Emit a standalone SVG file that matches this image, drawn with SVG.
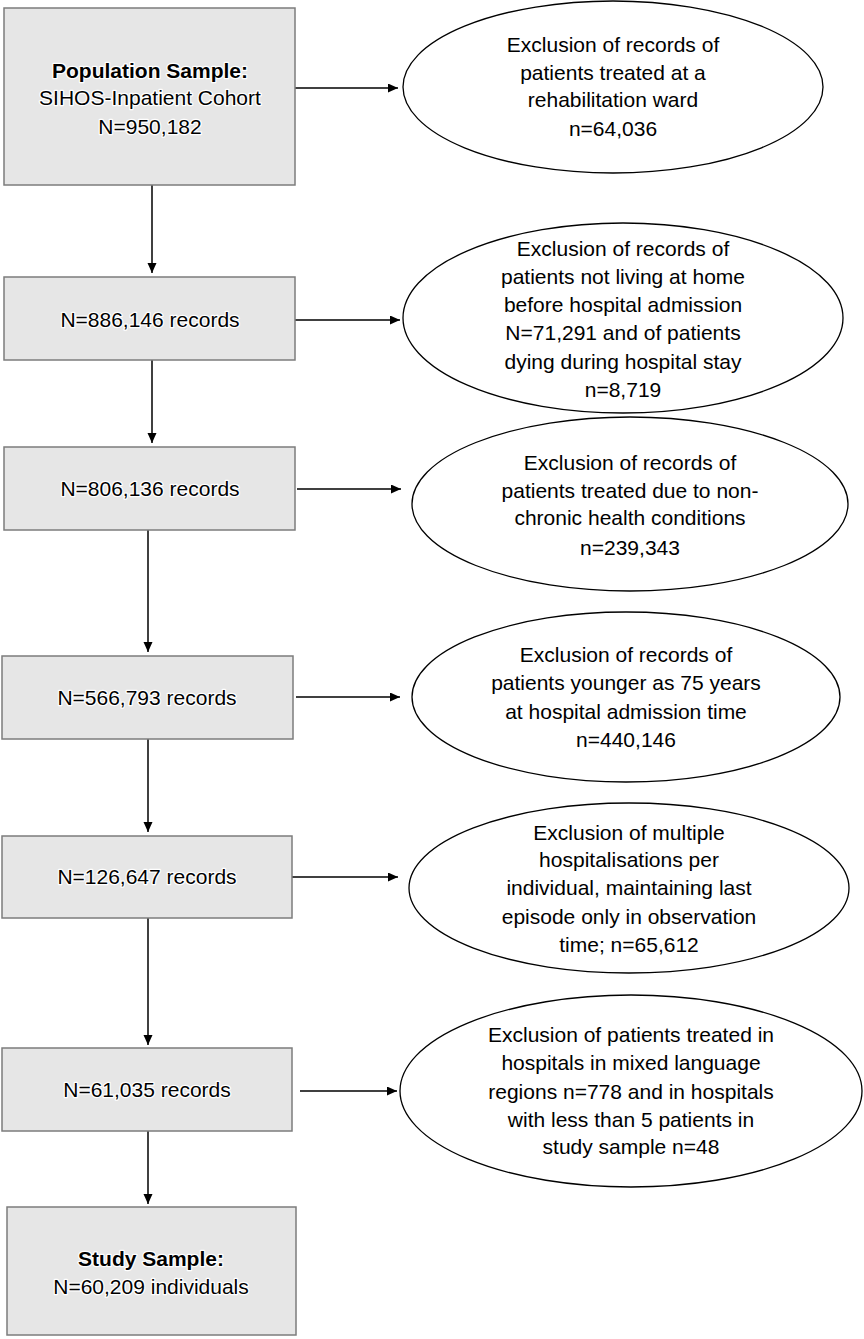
<svg xmlns="http://www.w3.org/2000/svg" width="864" height="1339" viewBox="0 0 864 1339">
<defs>
<style>
.box{fill:#e6e6e6;stroke:#7c7c7c;stroke-width:1.5}
.ell{fill:#fff;stroke:#000;stroke-width:1.3}
.bt{font-family:"Liberation Sans",Arial,sans-serif;font-size:21px;fill:#000;text-anchor:middle;stroke:#fff;stroke-width:2.5;paint-order:stroke;stroke-linejoin:round}
.et{font-family:"Liberation Sans",Arial,sans-serif;font-size:21px;fill:#000;text-anchor:middle}
.b{font-weight:bold}
.con{stroke:#000;stroke-width:1.5;fill:none;marker-end:url(#ah)}
</style>
<marker id="ah" markerUnits="userSpaceOnUse" markerWidth="11" markerHeight="10" refX="10" refY="4.5" orient="auto">
<path d="M0,0 L10,4.5 L0,9 z" fill="#000"/>
</marker>
</defs>
<rect width="864" height="1339" fill="#fff"/>
<g id="connectors">
<line class="con" x1="295" y1="88" x2="398" y2="88"/>
<line class="con" x1="295" y1="320" x2="400" y2="320"/>
<line class="con" x1="297" y1="489" x2="401" y2="489"/>
<line class="con" x1="296" y1="697" x2="400" y2="697"/>
<line class="con" x1="292" y1="877" x2="398" y2="877"/>
<line class="con" x1="300" y1="1091" x2="397" y2="1091"/>
<line class="con" x1="152" y1="185" x2="152" y2="273"/>
<line class="con" x1="152" y1="360" x2="152" y2="443"/>
<line class="con" x1="148" y1="530" x2="148" y2="652"/>
<line class="con" x1="148" y1="739" x2="148" y2="832"/>
<line class="con" x1="148" y1="918" x2="148" y2="1045"/>
<line class="con" x1="148" y1="1131" x2="148" y2="1204"/>
</g>
<g id="box1">
<rect class="box" x="4" y="8" width="291" height="177"/>
<text class="bt b" x="150" y="78">Population Sample:</text>
<text class="bt" x="150" y="105">SIHOS-Inpatient Cohort</text>
<text class="bt" x="150" y="134">N=950,182</text>
</g>
<g id="box2">
<rect class="box" x="4" y="277" width="291" height="83"/>
<text class="bt" x="150" y="327">N=886,146 records</text>
</g>
<g id="box3">
<rect class="box" x="4" y="447" width="291" height="83"/>
<text class="bt" x="150" y="496">N=806,136 records</text>
</g>
<g id="box4">
<rect class="box" x="2" y="656" width="291" height="83"/>
<text class="bt" x="147" y="705">N=566,793 records</text>
</g>
<g id="box5">
<rect class="box" x="2" y="836" width="290" height="82"/>
<text class="bt" x="147" y="884">N=126,647 records</text>
</g>
<g id="box6">
<rect class="box" x="2" y="1048" width="290" height="83"/>
<text class="bt" x="147" y="1097">N=61,035 records</text>
</g>
<g id="box7">
<rect class="box" x="7" y="1207" width="289" height="128"/>
<text class="bt b" x="151" y="1266">Study Sample:</text>
<text class="bt" x="151" y="1294">N=60,209 individuals</text>
</g>
<g id="ellipse1">
<ellipse class="ell" cx="613" cy="87" rx="210" ry="86"/>
<text class="et" x="613" y="52">Exclusion of records of</text>
<text class="et" x="613" y="80">patients treated at a</text>
<text class="et" x="613" y="107">rehabilitation ward</text>
<text class="et" x="613" y="136">n=64,036</text>
</g>
<g id="ellipse2">
<ellipse class="ell" cx="623" cy="318" rx="220" ry="95"/>
<text class="et" x="623" y="256">Exclusion of records of</text>
<text class="et" x="623" y="284">patients not living at home</text>
<text class="et" x="623" y="312">before hospital admission</text>
<text class="et" x="623" y="340">N=71,291 and of patients</text>
<text class="et" x="623" y="369">dying during hospital stay</text>
<text class="et" x="623" y="397">n=8,719</text>
</g>
<g id="ellipse3">
<ellipse class="ell" cx="630" cy="504" rx="218" ry="87"/>
<text class="et" x="630" y="470">Exclusion of records of</text>
<text class="et" x="630" y="498">patients treated due to non-</text>
<text class="et" x="630" y="525">chronic health conditions</text>
<text class="et" x="630" y="555">n=239,343</text>
</g>
<g id="ellipse4">
<ellipse class="ell" cx="626" cy="697" rx="214" ry="85"/>
<text class="et" x="626" y="662">Exclusion of records of</text>
<text class="et" x="626" y="690">patients younger as 75 years</text>
<text class="et" x="626" y="719">at hospital admission time</text>
<text class="et" x="626" y="747">n=440,146</text>
</g>
<g id="ellipse5">
<ellipse class="ell" cx="629" cy="888" rx="220" ry="85"/>
<text class="et" x="629" y="840">Exclusion of multiple</text>
<text class="et" x="629" y="867">hospitalisations per</text>
<text class="et" x="629" y="895">individual, maintaining last</text>
<text class="et" x="629" y="924">episode only in observation</text>
<text class="et" x="629" y="952">time; n=65,612</text>
</g>
<g id="ellipse6">
<ellipse class="ell" cx="631" cy="1091" rx="231" ry="96"/>
<text class="et" x="631" y="1042">Exclusion of patients treated in</text>
<text class="et" x="631" y="1070">hospitals in mixed language</text>
<text class="et" x="631" y="1099">regions n=778 and in hospitals</text>
<text class="et" x="631" y="1127">with less than 5 patients in</text>
<text class="et" x="631" y="1154">study sample n=48</text>
</g>
</svg>
